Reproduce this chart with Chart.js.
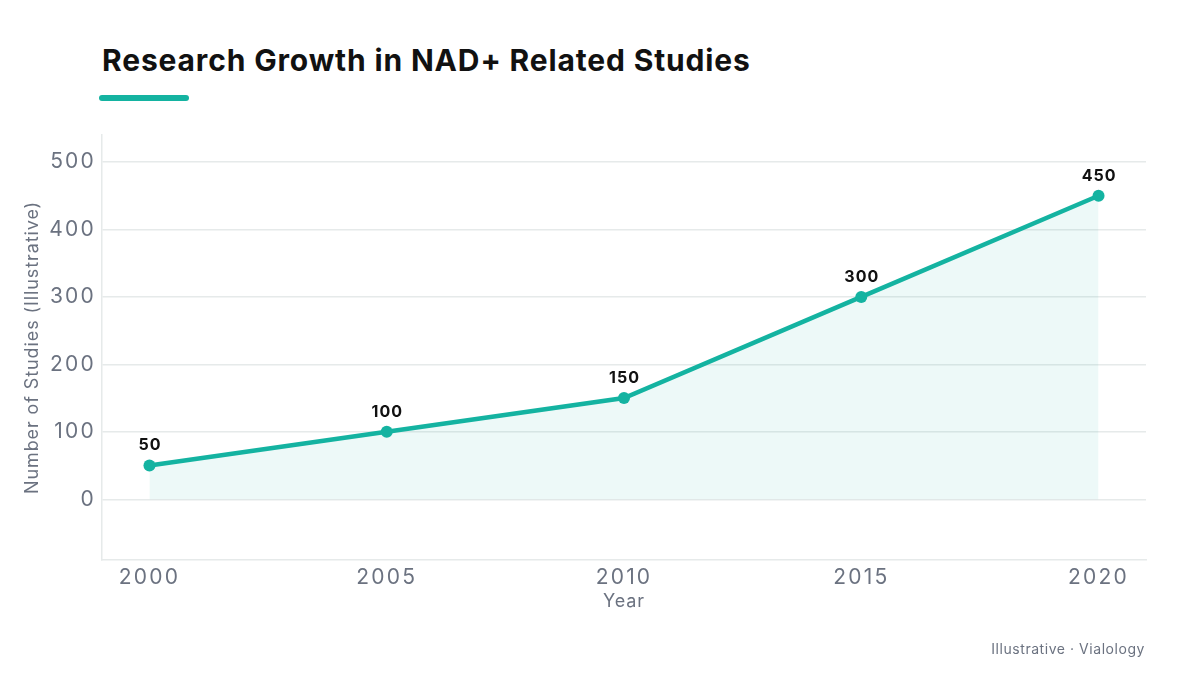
<!DOCTYPE html>
<html>
<head>
<meta charset="utf-8">
<script src="https://cdn.jsdelivr.net/npm/chart.js@4.4.1/dist/chart.umd.min.js"></script>
<style>
  html, body { margin:0; padding:0; background:#fff; }
  #wrap { position:relative; width:1200px; height:675px; overflow:hidden; font-family: Inter, "Noto Sans", sans-serif; }
  #title { position:absolute; left:102px; top:42px; font-size:30px; font-weight:700; color:#111; letter-spacing:0.85px; white-space:nowrap; }
  #bar { position:absolute; left:99px; top:95px; width:90px; height:6px; border-radius:3px; background:#14b3a1; }
  #foot { position:absolute; right:55px; top:640px; font-size:14px; color:#6b7280; letter-spacing:0.55px; white-space:nowrap; }
  canvas { position:absolute; left:0; top:0; }
</style>
</head>
<body>
<div id="wrap">
  <div id="title">Research Growth in NAD+ Related Studies</div>
  <div id="bar"></div>
  <canvas id="c" width="1200" height="675"></canvas>
  <div id="foot">Illustrative · Vialology</div>
</div>
<script>
const years = [2000, 2005, 2010, 2015, 2020];
const studies = [50, 100, 150, 300, 450];
const yTicks = [0, 100, 200, 300, 400, 500];
const xTicks = [2000, 2005, 2010, 2015, 2020];

const teal = '#14b3a1';
const tickColor = '#6b7280';
const gridColor = '#e6eaea';

function withSpacing(ctx, sp, fn) {
  const prev = ctx.letterSpacing;
  ctx.letterSpacing = sp;
  try { fn(); } finally { ctx.letterSpacing = prev || '0px'; }
}

const spacingPlugin = {
  id: 'spacing',
  beforeDraw(chart) {
    Object.values(chart.scales).forEach(s => {
      if (s._spPatched) return;
      s._spPatched = true;
      const dl = s.drawLabels.bind(s);
      const dt = s.drawTitle.bind(s);
      s.drawLabels = (a) => withSpacing(s.ctx, '2.2px', () => dl(a));
      s.drawTitle = (a) => withSpacing(s.ctx, '0.9px', () => dt(a));
    });
  }
};

const labelPlugin = {
  id: 'pointLabels',
  afterDatasetsDraw(chart) {
    const ctx = chart.ctx;
    const meta = chart.getDatasetMeta(0);
    ctx.save();
    ctx.font = '700 16px Inter, "Noto Sans", sans-serif';
    ctx.fillStyle = '#111';
    ctx.textAlign = 'center';
    ctx.textBaseline = 'middle';
    withSpacing(ctx, '1px', () => {
      meta.data.forEach((pt, i) => {
        ctx.fillText(String(studies[i]), pt.x + 0.5, pt.y - 20);
      });
    });
    ctx.restore();
  }
};

new Chart(document.getElementById('c'), {
  type: 'line',
  data: {
    datasets: [{
      data: years.map((y, i) => ({ x: y, y: studies[i] })),
      borderColor: teal,
      borderWidth: 4.5,
      backgroundColor: 'rgba(20,179,161,0.08)',
      fill: 'origin',
      pointRadius: 6,
      pointHoverRadius: 6,
      pointBackgroundColor: teal,
      pointBorderColor: teal,
      pointBorderWidth: 0,
      tension: 0
    }]
  },
  options: {
    responsive: false,
    animation: false,
    devicePixelRatio: 1,
    layout: { padding: { top: 135, right: 54, bottom: 60, left: 0 } },
    plugins: { legend: { display: false }, tooltip: { enabled: false } },
    scales: {
      x: {
        type: 'linear',
        min: 1999, max: 2021,
        afterBuildTicks: s => { s.ticks = xTicks.map(v => ({ value: v })); },
        afterFit: s => { s.height = 55; },
        grid: { display: false, drawTicks: false },
        border: { display: true, color: gridColor, width: 1.5 },
        ticks: { color: tickColor, font: { size: 21, family: 'Inter' }, padding: 5, callback: v => String(v), maxRotation: 0 },
        title: { display: true, text: 'Year', color: tickColor, font: { size: 18, family: 'Inter' }, padding: { top: 0, bottom: 3 } }
      },
      y: {
        min: -90, max: 540,
        afterBuildTicks: s => { s.ticks = yTicks.map(v => ({ value: v })); },
        afterFit: s => { s.width = 102; },
        grid: { color: gridColor, lineWidth: 1.5, drawTicks: false },
        border: { display: true, color: gridColor, width: 1.5 },
        ticks: { color: tickColor, font: { size: 21, family: 'Inter' }, padding: 6, callback: v => String(v) },
        title: { display: true, text: 'Number of Studies (Illustrative)', color: tickColor, font: { size: 18, family: 'Inter' }, padding: { top: 22, bottom: 0 } }
      }
    }
  },
  plugins: [spacingPlugin, labelPlugin]
});
</script>
</body>
</html>
